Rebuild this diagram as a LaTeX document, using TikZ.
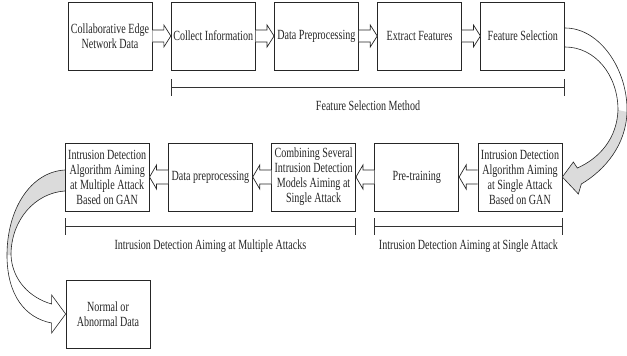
\documentclass[tikz,border=0pt]{standalone}
\usepackage{fontspec}
\setmainfont{Liberation Serif}[FakeStretch=0.72]
\usetikzlibrary{positioning,calc,arrows.meta}

\begin{document}
\begin{tikzpicture}[x=1pt,y=-1pt,
  box/.style={draw=black!85, line width=0.7pt, fill=white, minimum width=84pt,
    minimum height=68pt, inner sep=2pt, align=center, text=black!85,
    font=\fontsize{14}{15}\selectfont},
  fat/.style={draw=black!85, line width=0.7pt, fill=white},
  curvearr/.style={draw=black!85, line width=0.6pt},
  span/.style={draw=black!80, line width=0.8pt, {Bar[width=17pt]}-{Bar[width=17pt]}},
  spanlbl/.style={text=black!85, font=\fontsize{14}{15}\selectfont}]
\useasboundingbox (0,0) rectangle (627,356);

% Top row
\node[box] (ced) at (110,36) {Collaborative Edge\\Network Data};
\node[box, right=18.5pt of ced] (coll) {Collect Information};
\node[box, right=18.5pt of coll] (prep) {Data Preprocessing};
\node[box, right=18.5pt of prep] (extr) {Extract Features};
\node[box, right=18.5pt of extr] (fsel) {Feature Selection};

% Bottom row (right to left)
\node[box] (gsingle) at (520,177) {Intrusion Detection\\Algorithm Aiming\\at Single Attack\\Based on GAN};
\node[box, left=18.5pt of gsingle] (pretr) {Pre-training};
\node[box, left=18.5pt of pretr] (comb) {Combining Several\\Intrusion Detection\\Models Aiming at\\Single Attack};
\node[box, left=18.5pt of comb] (dprep) {Data preprocessing};
\node[box, left=18.5pt of dprep] (gmulti) {Intrusion Detection\\Algorithm Aiming\\at Multiple Attack\\Based on GAN};

% Result
\node[box] (res) at (108,314) {Normal or\\Abnormal Data};

% Hollow arrows, top row
\foreach \a/\b in {ced/coll,coll/prep,prep/extr,extr/fsel} {
  \draw[fat] ($(\a.east)+(0,-6)$) -- ($(\b.west)+(-7,-6)$) -- ($(\b.west)+(-7,-11)$)
    -- (\b.west) -- ($(\b.west)+(-7,11)$) -- ($(\b.west)+(-7,6)$) -- ($(\a.east)+(0,6)$);
}
% Hollow arrows, bottom row
\foreach \a/\b in {gsingle/pretr,pretr/comb,comb/dprep,dprep/gmulti} {
  \draw[fat] ($(\a.west)+(0,-7)$) -- ($(\b.east)+(7,-7)$) -- ($(\b.east)+(7,-12)$)
    -- (\b.east) -- ($(\b.east)+(7,12)$) -- ($(\b.east)+(7,7)$) -- ($(\a.west)+(0,7)$);
}

% Curved arrow: Feature Selection -> single attack GAN
\fill[gray!28] (627,112) .. controls (626,145) and (605,170) .. ($(gsingle.east)+(19,7)$)
  -- ($(gsingle.east)+(16,17)$) -- (gsingle.east) -- ($(gsingle.east)+(11,-15)$)
  -- ($(gsingle.east)+(15,-9)$) .. controls (600,158) and (617,138) .. (618,110) -- cycle;
\draw[curvearr] ($(fsel.east)+(0,-8)$) .. controls (600,28) and (628,70) .. (627,112)
  .. controls (626,145) and (605,170) .. ($(gsingle.east)+(19,7)$)
  -- ($(gsingle.east)+(16,17)$) -- (gsingle.east) -- ($(gsingle.east)+(11,-15)$)
  -- ($(gsingle.east)+(15,-9)$) .. controls (600,158) and (617,138) .. (618,110)
  .. controls (618,75) and (595,47) .. ($(fsel.east)+(0,11)$);

% Curved arrow: multiple attack GAN -> result
\fill[gray!28] ($(gmulti.west)+(0,-7)$) .. controls (30,172) and (7,210) .. (7,255)
  -- (11,255) .. controls (11,220) and (35,193) .. ($(gmulti.west)+(0,14)$) -- cycle;
\draw[curvearr] ($(gmulti.west)+(0,-7)$) .. controls (30,172) and (7,210) .. (7,255)
  .. controls (7,295) and (25,318) .. ($(res.west)+(-14,9)$)
  -- ($(res.west)+(-14,19)$) -- (res.west) -- ($(res.west)+(-14,-19)$)
  -- ($(res.west)+(-14,-10)$) .. controls (30,298) and (12,280) .. (11,255)
  .. controls (11,220) and (35,193) .. ($(gmulti.west)+(0,14)$);

% Spans
\draw[span] ([yshift=-17pt]coll.south west) -- ([yshift=-17pt]fsel.south east)
  node[spanlbl, midway, below=10pt] (fsm) {Feature Selection Method};
\draw[span] ([yshift=-15pt]gmulti.south west) -- ([yshift=-15pt]comb.south east)
  node[spanlbl, midway, below=10pt] (idm) {Intrusion Detection Aiming at Multiple Attacks};
\draw[span] ([yshift=-15pt]pretr.south west) -- ([yshift=-15pt]gsingle.south east)
  node[spanlbl, midway, below=10pt] (ids) {Intrusion Detection Aiming at Single Attack};
\end{tikzpicture}
\end{document}
